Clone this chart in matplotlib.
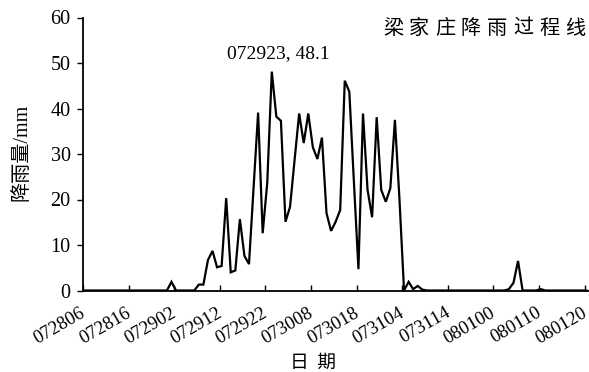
import matplotlib
matplotlib.use('Agg')
import matplotlib.pyplot as plt
import numpy as np
from matplotlib.transforms import ScaledTranslation

# x tick labels (every 10 hours, MMDDHH)
tick_labels = ['072806', '072816', '072902', '072912', '072922', '073008',
               '073018', '073104', '073114', '080100', '080110', '080120']
tick_hours = [0, 10, 20, 30, 40, 50, 60, 70, 80, 90, 100, 110]

# hourly rainfall (mm) starting at 072806
rain = [0, 0, 0, 0, 0, 0, 0, 0, 0, 0,
        0, 0, 0, 0, 0, 0, 0, 0, 0, 1.9,
        0, 0, 0, 0, 0, 1.3, 1.3, 6.7, 8.7, 5.1,
        5.4, 20.3, 4.0, 4.4, 15.7, 7.6, 5.8, 22.5, 39.1, 12.6,
        23.6, 48.1, 38.2, 37.3, 15.1, 18.4, 28.7, 38.9, 32.4, 38.9,
        31.5, 28.9, 33.6, 17.0, 13.1, 15.1, 17.7, 46.1, 43.7, 24.0,
        4.7, 38.9, 22.1, 16.1, 38.1, 22.1, 19.5, 22.5, 37.5, 20.0,
        0, 1.9, 0.3, 1.0, 0.2, 0, 0, 0, 0, 0,
        0, 0, 0, 0, 0, 0, 0, 0, 0, 0,
        0, 0, 0, 0.3, 1.7, 6.5, 0, 0, 0, 0,
        0.3, 0, 0, 0, 0, 0, 0, 0, 0, 0,
        0]

peak_label = '072923, 48.1'
title = '梁家庄降雨过程线'
ylabel = '降雨量/mm'
xlabel = '日  期'

serif = ['Liberation Serif', 'Noto Sans CJK SC']
cjk = ['Noto Sans CJK SC', 'DejaVu Sans']

W, H = 589, 372
fig = plt.figure(figsize=(W / 100, H / 100), dpi=100)
ax = fig.add_axes([83 / W, 81.5 / H, 506 / W, 273 / H])

x = np.arange(len(rain)) + 0.4
ax.plot(x, rain, color='black', lw=1.6, solid_joinstyle='miter')

ax.set_xlim(0, 110.96)
ax.set_ylim(0, 60)
for s in ['top', 'right']:
    ax.spines[s].set_visible(False)
for s in ['left', 'bottom']:
    ax.spines[s].set_linewidth(1.3)

ax.set_xticks(tick_hours)
ax.set_xticklabels(tick_labels, rotation=30, ha='right', rotation_mode='anchor',
                   fontfamily=serif, fontsize=13.5)
ax.tick_params(axis='x', direction='in', length=4, width=1.0, pad=10)
off = ScaledTranslation(-3.5 / 100, 0, fig.dpi_scale_trans)
for lab in ax.get_xticklabels():
    lab.set_transform(lab.get_transform() + off)

ax.set_yticks([0, 10, 20, 30, 40, 50, 60])
ax.set_yticklabels(['0', '10', '20', '30', '40', '50', '60'],
                   fontfamily=serif, fontsize=14.5)
ax.tick_params(axis='y', direction='out', length=4, width=1.0, pad=5)

# peak annotation
ipk = int(np.argmax(rain))
ax.annotate(peak_label, xy=(x[ipk], rain[ipk]), xytext=(5, 13),
            textcoords='offset points', ha='center', va='center',
            fontfamily=serif, fontsize=14)

# title, characters spread out
pitch = 26
for i, ch in enumerate(title):
    fig.text((393 + pitch * i) / W, 1 - 28 / H, ch, ha='center', va='center',
             fontfamily=cjk, fontsize=14.5)

fig.text(22 / W, 1 - 152 / H, ylabel, ha='center', va='center', rotation=90,
         fontfamily=serif, fontsize=14.5)
fig.text(312.5 / W, 1 - 362 / H, xlabel, ha='center', va='center',
         fontfamily=cjk, fontsize=13.5)

fig.savefig('out.png', dpi=100)
